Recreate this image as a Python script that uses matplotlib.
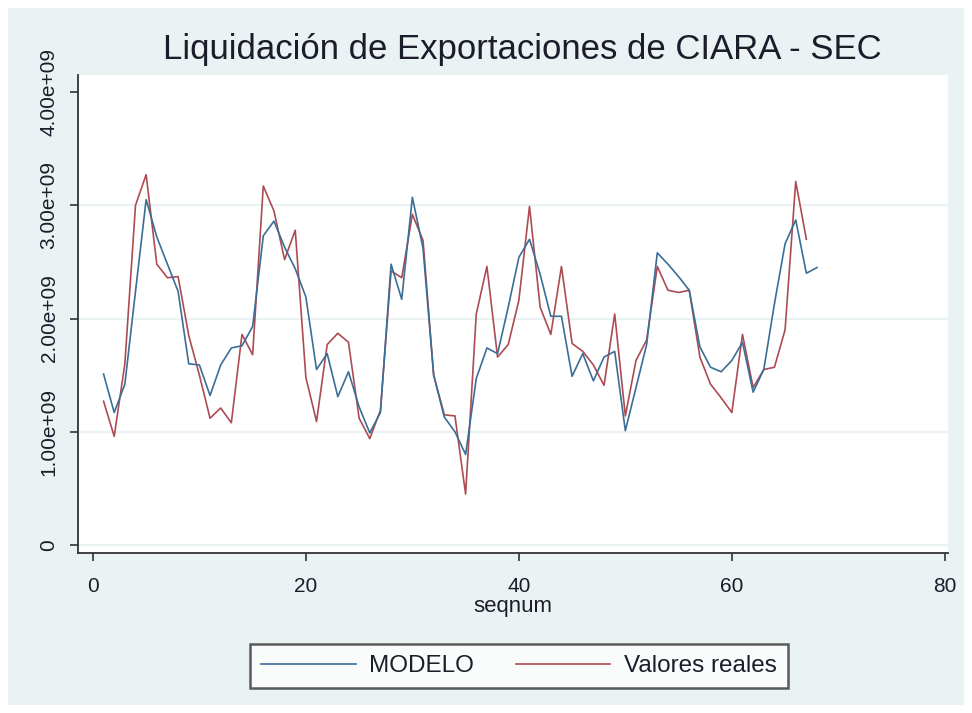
import matplotlib.pyplot as plt
from matplotlib.patches import Rectangle

plt.rcParams['font.family'] = ['Liberation Sans', 'DejaVu Sans']

# seqnum index
seqnum_modelo = list(range(1, 69))
seqnum_reales = list(range(1, 68))

# MODELO (in units of 1e9)
modelo = [1.51, 1.17, 1.42, 2.24, 3.05, 2.72, 2.48, 2.24, 1.60, 1.59,
          1.32, 1.59, 1.74, 1.76, 1.93, 2.73, 2.86, 2.63, 2.44, 2.19,
          1.55, 1.69, 1.31, 1.53, 1.22, 0.99, 1.17, 2.48, 2.17, 3.07,
          2.62, 1.50, 1.13, 1.00, 0.80, 1.47, 1.74, 1.69, 2.10, 2.54,
          2.70, 2.39, 2.02, 2.02, 1.49, 1.69, 1.45, 1.66, 1.71, 1.01,
          1.39, 1.77, 2.58, 2.48, 2.37, 2.25, 1.75, 1.57, 1.53, 1.63,
          1.79, 1.35, 1.55, 2.13, 2.66, 2.87, 2.40, 2.45]

# Valores reales (in units of 1e9)
reales = [1.27, 0.96, 1.60, 3.00, 3.27, 2.48, 2.36, 2.37, 1.85, 1.50,
          1.12, 1.21, 1.08, 1.86, 1.68, 3.17, 2.95, 2.52, 2.78, 1.48,
          1.09, 1.77, 1.87, 1.79, 1.12, 0.94, 1.19, 2.42, 2.36, 2.92,
          2.69, 1.50, 1.15, 1.14, 0.45, 2.04, 2.46, 1.66, 1.77, 2.16,
          2.99, 2.10, 1.86, 2.46, 1.78, 1.71, 1.59, 1.41, 2.04, 1.14,
          1.63, 1.81, 2.46, 2.25, 2.23, 2.25, 1.66, 1.42, 1.30, 1.17,
          1.86, 1.39, 1.55, 1.57, 1.90, 3.21, 2.70]

x_ticks = [0, 20, 40, 60, 80]
y_ticks = [0, 1e9, 2e9, 3e9, 4e9]
y_tick_labels = ['0', '1.00e+09', '2.00e+09', '3.00e+09', '4.00e+09']
grid_levels = [0, 1e9, 2e9, 3e9]

bg = '#eaf2f3'
txt = '#1c1c2a'

fig = plt.figure(figsize=(9.72, 7.13), dpi=100, facecolor='white')
# light blue graph region inside a thin white border
fig.patches.append(Rectangle((8 / 972, 8 / 713), 956 / 972, 697 / 713,
                             transform=fig.transFigure, facecolor=bg,
                             edgecolor='none', zorder=-10))

ax = fig.add_axes([78 / 972, 1 - 553 / 713, 870 / 972, 478 / 713])
ax.set_facecolor('white')

for g in grid_levels:
    ax.axhline(g, color=bg, lw=1.6, zorder=1)

ax.plot(seqnum_modelo, [v * 1e9 for v in modelo], color='#3a6e97', lw=1.2,
        label='MODELO', zorder=3)
ax.plot(seqnum_reales, [v * 1e9 for v in reales], color='#ad4b53', lw=1.2,
        label='Valores reales', zorder=2)

ax.set_xlim(-1.4, 80.3)
ax.set_ylim(-0.07e9, 4.15e9)
ax.set_xticks(x_ticks)
ax.set_yticks(y_ticks)
ax.set_yticklabels(y_tick_labels, rotation=90, va='center')
ax.tick_params(axis='both', direction='out', length=6, width=1.2,
               colors='#333333', labelcolor=txt, labelsize=15)
ax.tick_params(axis='x', pad=11)
ax.tick_params(axis='y', pad=8)

for side in ['top', 'right']:
    ax.spines[side].set_visible(False)
for side in ['left', 'bottom']:
    ax.spines[side].set_color('#333333')
    ax.spines[side].set_linewidth(1.3)

ax.set_xlabel('seqnum', fontsize=16, color=txt, labelpad=0)
fig.text(522 / 972, 1 - 49 / 713, 'Liquidación de Exportaciones de CIARA - SEC',
         ha='center', va='center', fontsize=25, color=txt)

leg = ax.legend(loc='center', bbox_to_anchor=(519 / 972, 1 - 666 / 713),
                bbox_transform=fig.transFigure, ncol=2, frameon=True,
                fancybox=False, fontsize=17.5, handlelength=3.9,
                columnspacing=1.7, borderpad=0.45, handletextpad=0.55)
leg.get_frame().set_edgecolor('#333333')
leg.get_frame().set_linewidth(1.8)
for t in leg.get_texts():
    t.set_color(txt)

fig.savefig('out.png', dpi=100, facecolor='white')
